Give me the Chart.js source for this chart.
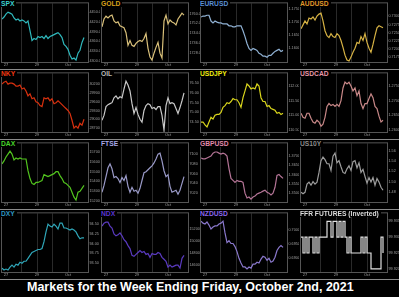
<!DOCTYPE html>
<html lang="en">
<head>
<meta charset="UTF-8">
<title>Markets for the Week Ending Friday, October 2nd, 2021</title>
<script src="https://cdn.jsdelivr.net/npm/chart.js"></script>
<style>
    * { margin: 0; padding: 0; box-sizing: border-box; }
    body { background: #000; width: 399px; height: 297px; overflow: hidden; font-family: 'Liberation Sans', Arial, sans-serif; }
    #grid { position: absolute; left: 0; top: 0; width: 399px; height: 280px; }
    .panel { position: absolute; width: 100px; height: 70px; }
    .panel canvas { position: absolute; left: 0; top: 0; }
    .title {
        position: absolute; left: 1px; top: -0.5px;
        font-weight: bold; font-size: 6.7px; line-height: 7.5px;
        background: #000; padding-right: 2px; white-space: nowrap;
    }
    .footer {
        position: absolute; left: 27px; top: 280px;
        color: #fff; font-weight: bold; font-size: 12.5px; line-height: 15px;
        white-space: nowrap;
    }
</style>
</head>
<body>
<div id="grid"></div>
<div class="footer">Markets for the Week Ending Friday, October 2nd, 2021</div>

<script>
// x axis: one point per sample, day boundaries as ticks
const DAY_LABELS = ['27', '', '29', '', 'Oct'];
const DAY_TICKS = [2, 9.5, 17.5, 25, 33];

// series values
const SPX = [4429,4435,4444,4450,4447,4444,4432,4426,4429,4423,4426,4423,4417,4423,4393,4363,4369,4366,4375,4372,4375,4369,4378,4369,4375,4378,4381,4384,4387,4381,4372,4351,4345,4336,4318,4306,4309,4303,4324,4333,4357,4372];
const SPX_TICKS = [4450, 4420, 4390, 4360, 4330, 4300];

const GOLD = [1749.2,1755.6,1758,1756.4,1758,1758.8,1754,1752.4,1753.2,1750,1749.2,1748.4,1744.4,1734,1738,1734,1733.2,1735.6,1737.2,1738,1737.2,1739.6,1743.6,1731.6,1724.4,1722,1727.6,1732.4,1736.4,1727.6,1723.6,1754,1758.8,1751.6,1754.8,1753.2,1752.4,1750.8,1755.6,1758,1760.4,1758.8];
const GOLD_TICKS = [1760, 1752, 1744, 1736, 1728];

const EURUSD = [1.1718,1.1722,1.1722,1.1725,1.1725,1.1703,1.1696,1.1703,1.1699,1.1696,1.1696,1.1692,1.1692,1.1692,1.1685,1.1685,1.1681,1.1681,1.1685,1.1685,1.1685,1.1666,1.1644,1.1618,1.1599,1.1592,1.1599,1.1596,1.1592,1.1581,1.1577,1.1570,1.1570,1.1566,1.1573,1.1573,1.1581,1.1588,1.1592,1.1596,1.1588,1.1592];
const EURUSD_TICKS = [1.175, 1.170, 1.165, 1.160];

const AUDUSD = [0.7262,0.7274,0.7286,0.7277,0.7295,0.7292,0.7298,0.7289,0.7301,0.7307,0.7310,0.7286,0.7256,0.7241,0.7235,0.7247,0.7238,0.7235,0.7247,0.7241,0.7226,0.7205,0.7181,0.7166,0.7163,0.7175,0.7190,0.7202,0.7220,0.7217,0.7238,0.7226,0.7247,0.7220,0.7202,0.7190,0.7214,0.7241,0.7265,0.7271,0.7268,0.7265];
const AUDUSD_TICKS = [0.7300, 0.7275, 0.7250, 0.7225, 0.7200, 0.7175];

const NKY = [30200,30267,30300,30200,30233,30233,30200,30133,30133,30167,30033,30067,29967,29800,29867,29700,29733,29600,29567,29467,29433,29733,29700,29733,29633,29700,29533,29567,29633,29567,29500,29433,29367,29300,29200,28967,28700,28767,28700,28867,28800,29000];
const NKY_TICKS = [30200, 29900, 29600, 29300, 29000, 28700];

const OIL = [74.6,74.85,75.3,75.4,75.45,75.5,75.75,75.85,75.7,75.8,75.75,76.2,76.6,76.4,76.1,75.45,74.95,75.25,74.9,74.65,74.5,75.1,75.35,75.45,75.4,75.2,75.25,75.15,75.3,75.3,74.85,74.1,75.35,75.75,75.45,75.5,75.45,75.2,74.95,75.25,75.6,76.0];
const OIL_TICKS = [76.5, 76.0, 75.5, 75.0, 74.5];

const USDJPY = [110.77,110.77,110.67,110.60,110.77,110.93,110.87,111.00,111.03,111.03,111.10,111.27,111.33,111.43,111.40,111.47,111.57,111.53,111.53,111.43,111.27,111.60,111.83,112.07,112.00,111.90,111.93,111.90,112.07,112.00,111.60,111.47,111.47,111.30,111.33,111.23,111.20,111.17,111.07,111.10,111.03,111.07];
const USDJPY_TICKS = [112.00, 111.50, 111.00, 110.50];

const USDCAD = [1.2657,1.2643,1.2640,1.2657,1.2657,1.2640,1.2627,1.2623,1.2633,1.2627,1.2613,1.2620,1.2643,1.2680,1.2690,1.2683,1.2687,1.2680,1.2687,1.2680,1.2700,1.2743,1.2763,1.2757,1.2763,1.2750,1.2733,1.2743,1.2717,1.2733,1.2690,1.2673,1.2690,1.2690,1.2707,1.2723,1.2710,1.2680,1.2673,1.2647,1.2627,1.2633];
const USDCAD_TICKS = [1.2750, 1.2700, 1.2650, 1.2600];

const DAX = [15580,15610,15650,15680,15710,15680,15620,15640,15630,15640,15630,15630,15630,15510,15430,15380,15370,15390,15390,15400,15410,15470,15460,15450,15460,15470,15480,15500,15500,15460,15430,15390,15380,15360,15340,15290,15240,15210,15290,15300,15330,15360];
const DAX_TICKS = [15700, 15600, 15500, 15400, 15300, 15200];

const FTSE = [7022,7036,7054,7072,7080,7070,7052,7054,7050,7042,7052,7046,7056,7034,7022,7032,7024,7026,7020,7030,7046,7062,7064,7068,7072,7076,7082,7090,7100,7102,7086,7066,7054,7058,7034,7022,7024,7026,7018,7026,7040,7054];
const FTSE_TICKS = [7100, 7080, 7060, 7040, 7020];

const GBPUSD = [1.3690,1.3685,1.3685,1.3690,1.3695,1.3700,1.3716,1.3722,1.3722,1.3716,1.3711,1.3716,1.3711,1.3700,1.3632,1.3579,1.3568,1.3557,1.3568,1.3563,1.3563,1.3557,1.3499,1.3473,1.3478,1.3467,1.3478,1.3483,1.3494,1.3499,1.3504,1.3510,1.3515,1.3504,1.3499,1.3489,1.3499,1.3531,1.3595,1.3600,1.3589,1.3579];
const GBPUSD_TICKS = [1.3700, 1.3650, 1.3600, 1.3550, 1.3500];

const US10Y = [1.479,1.476,1.479,1.495,1.499,1.493,1.500,1.495,1.499,1.518,1.541,1.548,1.543,1.535,1.535,1.522,1.550,1.556,1.537,1.541,1.529,1.518,1.516,1.525,1.531,1.522,1.539,1.541,1.527,1.537,1.518,1.524,1.510,1.497,1.508,1.499,1.508,1.493,1.506,1.499,1.489,1.483];
const US10Y_TICKS = [1.56, 1.54, 1.52, 1.50, 1.48];

const DXY = [93.375,93.325,93.35,93.325,93.40,93.45,93.40,93.475,93.45,93.525,93.50,93.55,93.55,93.625,93.70,93.775,93.80,93.825,93.85,93.85,93.875,94.05,94.30,94.50,94.45,94.425,94.50,94.45,94.375,94.525,94.525,94.40,94.40,94.375,94.35,94.375,94.35,94.30,94.20,94.125,94.15,94.15];
const DXY_TICKS = [94.50, 94.25, 94.00, 93.75, 93.50];

const NDX = [15240,15288,15304,15304,15240,15208,15112,15080,15096,15128,15080,15016,14984,14920,14872,14760,14744,14776,14808,14840,14808,14824,14776,14792,14728,14792,14776,14776,14808,14792,14728,14696,14664,14568,14600,14568,14584,14600,14600,14552,14712,14760];
const NDX_TICKS = [15200, 15000, 14800, 14600];

const NZDUSD = [0.7030,0.7023,0.7020,0.7027,0.7016,0.7002,0.7009,0.7013,0.7013,0.7020,0.7023,0.7030,0.6988,0.6953,0.6960,0.6950,0.6950,0.6939,0.6921,0.6897,0.6880,0.6866,0.6866,0.6859,0.6866,0.6862,0.6876,0.6876,0.6883,0.6880,0.6894,0.6904,0.6901,0.6890,0.6897,0.6883,0.6887,0.6901,0.6925,0.6936,0.6943,0.6936];
const NZDUSD_TICKS = [0.7000, 0.6950, 0.6900];

const FFR = [99.930,99.925,99.930,99.925,99.930,99.930,99.925,99.930,99.925,99.930,99.930,99.930,99.930,99.935,99.935,99.930,99.935,99.935,99.930,99.935,99.930,99.935,99.930,99.925,99.930,99.925,99.925,99.925,99.925,99.925,99.930,99.925,99.930,99.925,99.925,99.920,99.920,99.920,99.920,99.920,99.930,99.925];
const FFR_TICKS = [99.935, 99.930, 99.925, 99.920];

// panel setup, row by row
const panels = [
    { name: 'SPX',    title: '#3ccfd0', line: '#2fb8bc', data: SPX,    ticks: SPX_TICKS,    min: 4297,    max: 4477,    dp: 1 },
    { name: 'GOLD',   title: '#d9a21b', line: '#d9c07a', data: GOLD,   ticks: GOLD_TICKS,   min: 1720.4,  max: 1768.4,  dp: 1 },
    { name: 'EURUSD', title: '#5a8fd6', line: '#8fb0d2', data: EURUSD, ticks: EURUSD_TICKS, min: 1.1548,  max: 1.1770,  dp: 4 },
    { name: 'AUDUSD', title: '#e0982a', line: '#d6b244', data: AUDUSD, ticks: AUDUSD_TICKS, min: 0.7160,  max: 0.7340,  dp: 4 },
    { name: 'NKY',    title: '#ee3a12', line: '#d8300e', data: NKY,    ticks: NKY_TICKS,    min: 28567,   max: 30567,   dp: 0 },
    { name: 'OIL',    title: '#b8b8b8', line: '#c8c8c8', data: OIL,    ticks: OIL_TICKS,    min: 74.0,    max: 77.0,    dp: 2 },
    { name: 'USDJPY', title: '#f2ee10', line: '#d8d41c', data: USDJPY, ticks: USDJPY_TICKS, min: 110.43,  max: 112.43,  dp: 2 },
    { name: 'USDCAD', title: '#e897a8', line: '#c88888', data: USDCAD, ticks: USDCAD_TICKS, min: 1.2593,  max: 1.2793,  dp: 4 },
    { name: 'DAX',    title: '#48d42a', line: '#52c41e', data: DAX,    ticks: DAX_TICKS,    min: 15190,   max: 15790,   dp: 0 },
    { name: 'FTSE',   title: '#a8a8e8', line: '#9a9ac8', data: FTSE,   ticks: FTSE_TICKS,   min: 7002,    max: 7122,    dp: 0 },
    { name: 'GBPUSD', title: '#e08aac', line: '#b47496', data: GBPUSD, ticks: GBPUSD_TICKS, min: 1.3451,  max: 1.3769,  dp: 4 },
    { name: 'US10Y',  title: '#8a8a8a', line: '#9c9c9c', data: US10Y,  ticks: US10Y_TICKS,  min: 1.460,   max: 1.575,   dp: 2 },
    { name: 'DXY',    title: '#2f95c0', line: '#2fa6b8', data: DXY,    ticks: DXY_TICKS,    min: 93.275,  max: 94.775,  dp: 2 },
    { name: 'NDX',    title: '#5a36d0', line: '#5a3ac0', data: NDX,    ticks: NDX_TICKS,    min: 14488,   max: 15448,   dp: 0 },
    { name: 'NZDUSD', title: '#8a66ee', line: '#8a78cc', data: NZDUSD, ticks: NZDUSD_TICKS, min: 0.6848,  max: 0.7058,  dp: 4 },
    { name: 'FFR FUTURES (Inverted)', title: '#dddddd', line: '#e0e0e0', data: FFR, ticks: FFR_TICKS, min: 99.919, max: 99.9375, dp: 3, stepped: true }
];

const colLeft = [0, 100, 199, 299];

// border round the plot area plus the row separator
const framePlugin = {
    id: 'frame',
    afterDraw(chart) {
        const { ctx, chartArea: a, width, height } = chart;
        ctx.save();
        ctx.lineWidth = 1;
        ctx.strokeStyle = '#555';
        ctx.strokeRect(a.left - 0.5, a.top - 0.5, a.right - a.left + 1, a.bottom - a.top + 1);
        ctx.strokeStyle = '#8a8a8a';
        ctx.beginPath();
        ctx.moveTo(0, height - 0.5);
        ctx.lineTo(width, height - 0.5);
        ctx.stroke();
        ctx.restore();
    }
};

Chart.defaults.font.family = "'Liberation Sans', Arial, sans-serif";
Chart.defaults.animation = false;

const grid = document.getElementById('grid');

panels.forEach((p, i) => {
    const div = document.createElement('div');
    div.className = 'panel';
    div.style.left = colLeft[i % 4] + 'px';
    div.style.top = Math.floor(i / 4) * 70 + 'px';

    const canvas = document.createElement('canvas');
    canvas.width = 100;
    canvas.height = 70;
    div.appendChild(canvas);

    const t = document.createElement('span');
    t.className = 'title';
    t.style.color = p.title;
    t.textContent = p.name;
    div.appendChild(t);
    grid.appendChild(div);

    new Chart(canvas.getContext('2d'), {
        type: 'line',
        data: {
            datasets: [{
                data: p.data.map((v, k) => ({ x: k, y: v })),
                borderColor: p.line,
                borderWidth: 1.2,
                pointRadius: 0,
                tension: 0,
                stepped: p.stepped ? 'before' : false
            }]
        },
        options: {
            responsive: false,
            devicePixelRatio: 1,
            layout: { padding: { left: 2, top: 2, right: 0, bottom: 0 } },
            plugins: { legend: { display: false }, tooltip: { enabled: false } },
            scales: {
                x: {
                    type: 'linear',
                    min: 0,
                    max: 43,
                    afterBuildTicks: s => { s.ticks = DAY_TICKS.map(v => ({ value: v })); },
                    afterFit: s => { s.height = 8; },
                    ticks: {
                        autoSkip: false, maxRotation: 0, padding: 1,
                        color: '#a0a0a0',
                        font: { size: 4, lineHeight: 1 },
                        callback: (v, k) => DAY_LABELS[k]
                    },
                    grid: {
                        drawTicks: false,
                        color: c => c.index === 0 ? 'rgba(0,0,0,0)' : '#2a2a2a'
                    },
                    border: { display: false }
                },
                y: {
                    position: 'right',
                    min: p.min,
                    max: p.max,
                    afterBuildTicks: s => { s.ticks = p.ticks.map(v => ({ value: v })); },
                    afterFit: s => { s.width = 12; },
                    ticks: {
                        autoSkip: false, padding: 1.5,
                        color: '#a0a0a0',
                        font: { size: 3.7, lineHeight: 1 },
                        callback: v => v.toFixed(p.dp)
                    },
                    grid: { display: false, drawTicks: false },
                    border: { display: false }
                }
            }
        },
        plugins: [framePlugin]
    });
});
</script>
</body>
</html>
